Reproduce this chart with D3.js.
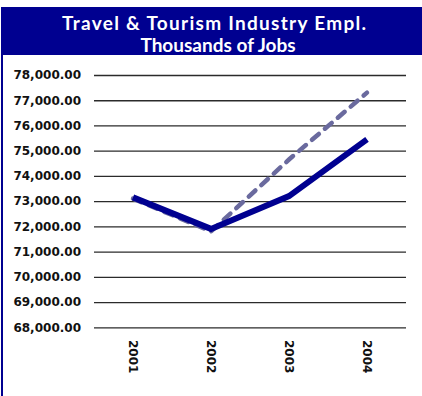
<!DOCTYPE html>
<html>
<head>
<meta charset="utf-8">
<script src="https://cdn.jsdelivr.net/npm/d3@7"></script>
<style>
  html, body { margin: 0; padding: 0; background: #fff; }
  svg { display: block; }
</style>
</head>
<body>
<svg id="chart" width="422" height="396"></svg>
<script>
// Chart data
const years = ["2001", "2002", "2003", "2004"];
const actualJobs = [73150, 71900, 73200, 75450];
const forecastJobs = [73100, 71800, 74650, 77300];
const yTicks = [68000, 69000, 70000, 71000, 72000, 73000, 74000, 75000, 76000, 77000, 78000];
const titleLines = ["Travel & Tourism Industry Empl.", "Thousands of Jobs"];

const navy = "#000090";
const svg = d3.select("#chart");

// Header band and left frame edge
svg.append("rect").attr("x", 1).attr("y", 7).attr("width", 421).attr("height", 48).attr("fill", navy);
svg.append("rect").attr("x", 1).attr("y", 7).attr("width", 2).attr("height", 389).attr("fill", navy);

const titleLayout = [
  { cx: 214, base: 30, len: 304 },
  { cx: 218, base: 51.5, len: null }
];

svg.selectAll("text.title")
  .data(titleLines)
  .join("text")
  .attr("class", "title")
  .attr("x", (d, i) => titleLayout[i].cx)
  .attr("y", (d, i) => titleLayout[i].base)
  .attr("text-anchor", "middle")
  .attr("textLength", (d, i) => titleLayout[i].len)
  .attr("lengthAdjust", "spacing")
  .attr("fill", "#fff")
  .attr("font-family", "Lato, 'Open Sans', sans-serif")
  .attr("font-weight", "bold")
  .attr("font-size", "19px")
  .text(d => d);

// Scales
const x = d3.scalePoint().domain(years).range([94, 406]).padding(0.5);
const y = d3.scaleLinear().domain([68000, 78000]).range([327.3, 75]);

// Horizontal gridlines with value labels
const yAxis = d3.axisLeft(y)
  .tickValues(yTicks)
  .tickSize(-(406 - 94))
  .tickPadding(13)
  .tickFormat(d3.format(",.2f"));

const gy = svg.append("g").attr("transform", "translate(94,0)").call(yAxis);
gy.select(".domain").remove();
gy.selectAll(".tick line").attr("stroke", "#2b2b2b").attr("stroke-width", 1.3);
gy.selectAll(".tick text")
  .attr("fill", "#111")
  .attr("font-family", "'DejaVu Sans', sans-serif")
  .attr("font-weight", "bold")
  .attr("font-size", "12px");

// Category labels, rotated to read downward
const xAxis = d3.axisBottom(x).tickSize(0).tickPadding(0);
const gx = svg.append("g").attr("transform", "translate(0,327)").call(xAxis);
gx.select(".domain").remove();
gx.selectAll(".tick text")
  .attr("transform", "translate(0,13) rotate(90)")
  .attr("text-anchor", "start")
  .attr("dy", "0.35em")
  .attr("y", 0)
  .attr("x", 0)
  .attr("fill", "#111")
  .attr("font-family", "'DejaVu Sans', sans-serif")
  .attr("font-weight", "bold")
  .attr("font-size", "12px");

// Series lines
const line = d3.line().x((d, i) => x(years[i])).y(d => y(d));

svg.append("path")
  .datum(forecastJobs)
  .attr("d", line)
  .attr("fill", "none")
  .attr("stroke", "#6a6a9e")
  .attr("stroke-width", 4.5)
  .attr("stroke-dasharray", "9,8")
  .attr("stroke-linecap", "round");

svg.append("path")
  .datum(actualJobs)
  .attr("d", line)
  .attr("fill", "none")
  .attr("stroke", navy)
  .attr("stroke-width", 6)
  .attr("stroke-linejoin", "miter");
</script>
</body>
</html>
